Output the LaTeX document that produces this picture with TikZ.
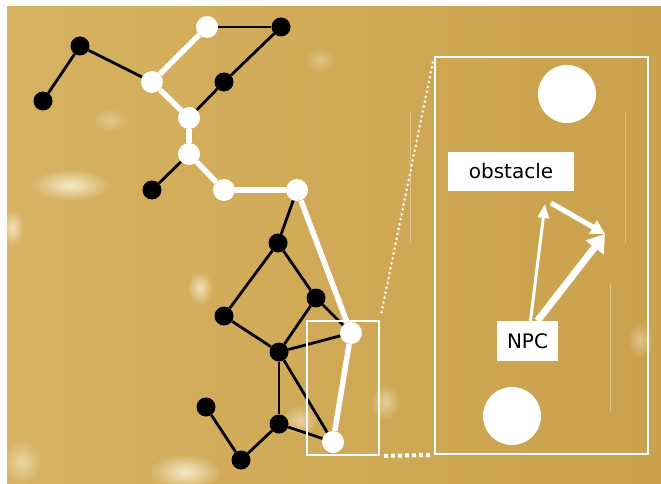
\documentclass[tikz,border=0pt]{standalone}
\usepackage{fontspec}
\setsansfont{DejaVu Sans}
\usetikzlibrary{arrows.meta,fadings}
\definecolor{goldlight}{RGB}{214,178,98}
\definecolor{golddark}{RGB}{202,161,76}
\definecolor{spot}{RGB}{250,240,212}
\tikzfading[name=softspot, inner color=transparent!0, outer color=transparent!100]
\tikzset{
  bk/.style={circle, fill=black, minimum size=19pt, inner sep=0pt},
  wt/.style={circle, fill=white, minimum size=22pt, inner sep=0pt},
  bline/.style={draw=black, line width=2.8pt},
  wline/.style={draw=white, line width=5.5pt},
  framebox/.style={draw=white, line width=1.8pt, inner sep=0pt},
  disc/.style={circle, fill=white, minimum size=58pt, inner sep=0pt},
  labelbox/.style={fill=white, inner sep=0pt, font=\sffamily\fontsize{20}{22}\selectfont, text=black},
  faint/.style={draw=white, opacity=0.35, line width=0.7pt}
}
\begin{document}
\begin{tikzpicture}[x=1pt,y=-1pt]
\useasboundingbox (0,0) rectangle (661,484);
\fill[white] (0,0) rectangle (661,484);
\shade[left color=goldlight, right color=golddark] (7,7) rectangle (661,484);
% light spots
\foreach \x/\y/\rx/\ry/\o in {70/185/40/16/0.9, 200/288/13/17/0.8, 185/472/36/18/0.9, 12/228/12/18/0.8, 300/420/18/15/0.6, 22/462/20/22/0.6, 110/120/18/12/0.4, 320/60/15/12/0.4, 640/340/13/18/0.45, 385/402/15/18/0.55}
  \fill[spot, opacity=\o, path fading=softspot] (\x,\y) ellipse [x radius=\rx, y radius=\ry];
% faint vertical lines
\draw[faint] (410,112) -- (410,243);
\draw[faint] (625,112) -- (625,243);
\draw[faint] (610,283) -- (610,412);

% graph nodes
\node[bk] (a) at (80,46) {};
\node[bk] (b) at (43,101) {};
\node[wt] (w0) at (207,27) {};
\node[wt] (w1) at (152,82) {};
\node[bk] (k1) at (281,27) {};
\node[bk] (k2) at (224,82) {};
\node[wt] (w2) at (189,118) {};
\node[wt] (w3) at (189,154) {};
\node[bk] (k3) at (152,190) {};
\node[wt] (w4) at (224,190) {};
\node[wt] (w5) at (297,190) {};
\node[bk] (k4) at (278,243) {};
\node[bk] (k5) at (316,298) {};
\node[bk] (k6) at (224,316) {};
\node[bk] (k7) at (279,352) {};
\node[wt] (w6) at (351,333) {};
\node[bk] (k8) at (279,424) {};
\node[wt] (w7) at (333,442) {};
\node[bk] (k9) at (206,407) {};
\node[bk] (k10) at (241,460) {};

% black bonds
\draw[bline] (a) -- (b);
\draw[bline] (a) -- (w1);
\draw[bline] (w0) -- (k1);
\draw[bline] (k1) -- (k2);
\draw[bline] (k2) -- (w2);
\draw[bline] (w3) -- (k3);
\draw[bline] (w5) -- (k4);
\draw[bline] (k4) -- (k6);
\draw[bline] (k4) -- (k5);
\draw[bline] (k5) -- (w6);
\draw[bline] (k6) -- (k7);
\draw[bline] (k5) -- (k7);
\draw[bline] (k7) -- (w6);
\draw[bline] (k7) -- (k8);
\draw[bline] (k7) -- (w7);
\draw[bline] (k8) -- (w7);
\draw[bline] (k8) -- (k10);
\draw[bline] (k10) -- (k9);
% white path
\draw[wline] (w0) -- (w1);
\draw[wline] (w1) -- (w2);
\draw[wline] (w2) -- (w3);
\draw[wline] (w3) -- (w4);
\draw[wline] (w4) -- (w5);
\draw[wline] (w5) -- (w6);
\draw[wline] (w6) -- (w7);

% zoom frames
\node[framebox, minimum width=72pt, minimum height=134pt] (src) at (343,388) {};
\node[framebox, minimum width=213pt, minimum height=397pt] (dst) at (541.5,255.5) {};
\draw[white, line width=2.8pt, line cap=round, dash pattern=on 0pt off 5pt, shorten <=8pt, shorten >=2pt] (src.north east) -- (dst.north west);
\draw[white, line width=4pt, dash pattern=on 4pt off 3pt, shorten <=4pt, shorten >=2pt] (src.south east) -- (dst.south west);

% inside the zoom
\node[disc] (top) at (567,94) {};
\node[disc] (bot) at (512,416) {};
\node[labelbox, minimum width=126pt, minimum height=39pt] (obs) at (511,171.5) {obstacle};
\node[labelbox, minimum width=61pt, minimum height=40pt] (npc) at (527.5,341) {NPC};
\coordinate (tipA) at (545,204);
\coordinate (tipB) at (605,234);
\coordinate (startC) at (551,203);
\draw[white, line width=3pt, -{Triangle[length=14pt, width=11pt]}] ([xshift=3pt]npc.north) -- (tipA);
\draw[white, line width=7pt, -{Triangle[length=17pt, width=22pt]}] ([xshift=10pt]npc.north) -- (tipB);
\draw[white, line width=5pt, -{Triangle[length=14pt, width=15pt]}] (startC) -- (tipB);
\end{tikzpicture}
\end{document}
